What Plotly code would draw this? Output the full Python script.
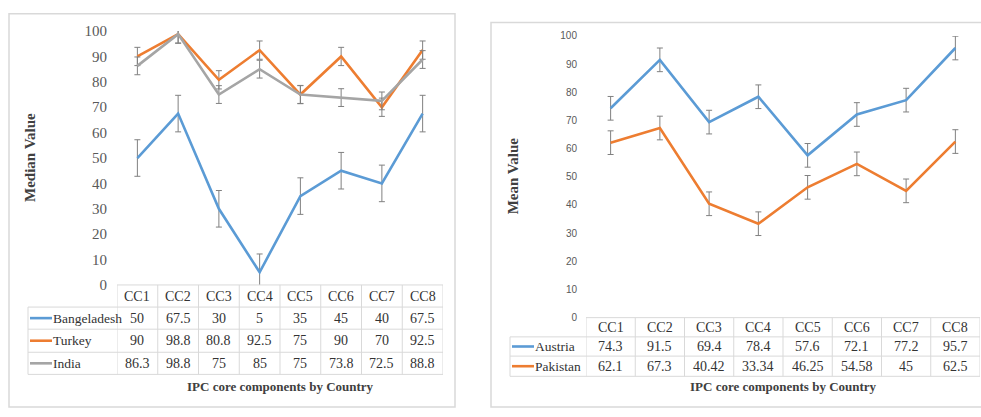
import plotly.graph_objects as go

W, H = 981, 417

# ---- data -------------------------------------------------------------
categories = ["CC1", "CC2", "CC3", "CC4", "CC5", "CC6", "CC7", "CC8"]

bangladesh = [50, 67.5, 30, 5, 35, 45, 40, 67.5]
turkey = [90, 98.8, 80.8, 92.5, 75, 90, 70, 92.5]
india = [86.3, 98.8, 75, 85, 75, 73.8, 72.5, 88.8]

austria = [74.3, 91.5, 69.4, 78.4, 57.6, 72.1, 77.2, 95.7]
pakistan = [62.1, 67.3, 40.42, 33.34, 46.25, 54.58, 45, 62.5]

# constant error bar half-widths per series
err_bangladesh = 7.2
err_turkey = 3.6
err_india = 3.5
err_austria = 4.2
err_pakistan = 4.2

y_ticks = [0, 10, 20, 30, 40, 50, 60, 70, 80, 90, 100]

BLUE, ORANGE, GREY = "#5B9BD5", "#ED7D31", "#A5A5A5"
ERR_COLOR = "#808080"
GRID = "#D9D9D9"
TEXT = "#333333"
TICK = "#595959"
SERIF = "Liberation Serif, Times New Roman, serif"
SANS = "Liberation Sans, Arial, sans-serif"


def px(x):
    return x / W


def py(y):
    return 1 - y / H


panels = [
    dict(
        xa="x", ya="y",
        frame=(9, 6, 455, 415),
        plot=(117, 24, 443, 288),
        rows=[311, 334, 358, 381],
        legend_left=28,
        series=[("Bangeladesh", bangladesh, err_bangladesh, BLUE),
                ("Turkey", turkey, err_turkey, ORANGE),
                ("India", india, err_india, GREY)],
        ytitle="Median Value", ytitle_x=30, ytitle_y=156,
        tick_font=dict(family=SERIF, size=15, color=TICK),
        standoff=9,
    ),
    dict(
        xa="x2", ya="y2",
        frame=(491, 15, 985, 415),
        plot=(586, 29, 980, 322),
        rows=[342, 362, 383],
        legend_left=510,
        series=[("Austria", austria, err_austria, BLUE),
                ("Pakistan", pakistan, err_pakistan, ORANGE)],
        ytitle="Mean Value", ytitle_x=513, ytitle_y=175,
        tick_font=dict(family=SANS, size=10, color=TICK),
        standoff=8,
    ),
]

fig = go.Figure()
shapes = []
annotations = []
layout_axes = {}

for p in panels:
    x0, y0, x1, y1 = p["plot"]
    xa, ya = p["xa"], p["ya"]
    xkey = "xaxis" if xa == "x" else "xaxis2"
    ykey = "yaxis" if ya == "y" else "yaxis2"

    for name, vals, err, color in p["series"]:
        fig.add_trace(go.Scatter(
            x=categories, y=vals, mode="lines", name=name,
            xaxis=xa, yaxis=ya, showlegend=False,
            line=dict(color=color, width=2.6),
            error_y=dict(type="constant", value=err, color=ERR_COLOR,
                         thickness=1, width=3),
        ))

    layout_axes[xkey] = dict(
        domain=[px(x0), px(x1)], range=[-0.5, len(categories) - 0.5],
        type="category", showticklabels=False, showgrid=False,
        zeroline=False, showline=False, anchor=ya, fixedrange=True,
    )
    layout_axes[ykey] = dict(
        domain=[py(y1), py(y0)], range=[0, 100], tickvals=y_ticks,
        showgrid=False, zeroline=False, showline=False, anchor=xa,
        tickfont=p["tick_font"], ticklabelstandoff=p["standoff"],
        fixedrange=True,
    )

    # panel frame
    fx0, fy0, fx1, fy1 = p["frame"]
    shapes.append(dict(type="rect", xref="paper", yref="paper",
                       x0=px(fx0), y0=py(fy0), x1=px(fx1), y1=py(fy1),
                       line=dict(color=GRID, width=1.5), layer="below"))

    # data table under the plot area
    rows = p["rows"]
    leg = p["legend_left"]
    line = dict(color=GRID, width=1)
    shapes.append(dict(type="line", xref="paper", yref="paper",
                       x0=px(x0), x1=px(x1), y0=py(y1), y1=py(y1), line=line))
    for r in rows:
        shapes.append(dict(type="line", xref="paper", yref="paper",
                           x0=px(leg), x1=px(x1), y0=py(r), y1=py(r), line=line))
    shapes.append(dict(type="line", xref="paper", yref="paper",
                       x0=px(leg), x1=px(leg), y0=py(rows[0]), y1=py(rows[-1]),
                       line=line))
    for i in range(len(categories) + 1):
        shapes.append(dict(type="line", xref=xa, yref="paper",
                           x0=i - 0.5, x1=i - 0.5, y0=py(y1), y1=py(rows[-1]),
                           line=line))

    table_font = dict(family=SERIF, size=14, color=TEXT)
    name_font = dict(family=SERIF, size=13.5, color=TEXT)
    hdr_mid = (y1 + rows[0]) / 2
    for c in categories:
        annotations.append(dict(x=c, y=py(hdr_mid), xref=xa, yref="paper",
                                text=c, showarrow=False, font=table_font,
                                xanchor="center", yanchor="middle"))
    for k, (name, vals, err, color) in enumerate(p["series"]):
        top, bot = rows[k], rows[k + 1]
        mid = (top + bot) / 2
        shapes.append(dict(type="line", xref="paper", yref="paper",
                           x0=px(leg + 2), x1=px(leg + 24), y0=py(mid), y1=py(mid),
                           line=dict(color=color, width=2.6)))
        annotations.append(dict(x=px(leg + 23), y=py(mid), xref="paper", yref="paper",
                                text=name, showarrow=False, font=name_font,
                                xanchor="left", yanchor="middle"))
        for c, v in zip(categories, vals):
            annotations.append(dict(x=c, y=py(mid), xref=xa, yref="paper",
                                    text=f"{v:g}", showarrow=False, font=table_font,
                                    xanchor="center", yanchor="middle"))

    # axis titles
    title_font = dict(family=SERIF, size=14, color="#404040")
    annotations.append(dict(x=px((x0 + x1) / 2), y=py(394), xref="paper", yref="paper",
                            text="<b>IPC core components by Country</b>",
                            showarrow=False, font=dict(title_font, size=13),
                            xanchor="center", yanchor="middle"))
    annotations.append(dict(x=px(p["ytitle_x"]), y=py(p["ytitle_y"]),
                            xref="paper", yref="paper",
                            text=f"<b>{p['ytitle']}</b>", textangle=-90,
                            showarrow=False, font=dict(title_font, size=15),
                            xanchor="center", yanchor="middle"))

fig.update_layout(
    width=W, height=H,
    margin=dict(l=0, r=0, t=0, b=0),
    paper_bgcolor="white", plot_bgcolor="rgba(0,0,0,0)",
    shapes=shapes, annotations=annotations,
    **layout_axes,
)

fig.write_html("out.html")
